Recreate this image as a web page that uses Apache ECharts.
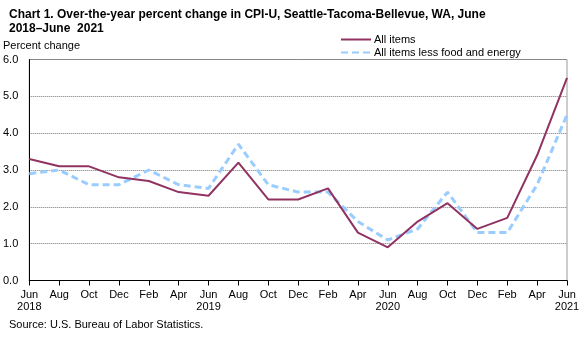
<!DOCTYPE html>
<html><head><meta charset="utf-8">
<script src="https://cdn.jsdelivr.net/npm/echarts@6/dist/echarts.min.js"></script>
<style>html,body{margin:0;padding:0;background:#fff}#c{width:588px;height:337px}</style>
</head><body><div id="c"></div>
<script>
var categories = ['Jun\n2018','Aug','Oct','Dec','Feb','Apr','Jun\n2019','Aug','Oct','Dec','Feb','Apr','Jun\n2020','Aug','Oct','Dec','Feb','Apr','Jun\n2021'];
var allItems = [3.3,3.1,3.1,2.8,2.7,2.4,2.3,3.2,2.2,2.2,2.5,1.3,0.9,1.6,2.1,1.4,1.7,3.4,5.5];
var coreItems = [2.9,3.0,2.6,2.6,3.0,2.6,2.5,3.7,2.6,2.4,2.4,1.6,1.1,1.4,2.4,1.3,1.3,2.6,4.5];
var yTicks = [0,1,2,3,4,5,6];

var chart = echarts.init(document.getElementById('c'), null, {renderer:'canvas'});
var font = 'Liberation Sans, Arial, sans-serif';
chart.setOption({
  animation:false,
  title:{
    text:'Chart 1. Over-the-year percent change in CPI-U, Seattle-Tacoma-Bellevue, WA, June\n2018\u2013June  2021',
    left:9, top:7, padding:0,
    textStyle:{fontFamily:font, fontSize:12, fontWeight:'bold', color:'#000', lineHeight:14.5}
  },
  legend:{
    orient:'vertical', left:340, top:34, padding:0, itemWidth:30, itemHeight:11, itemGap:2,
    itemStyle:{opacity:0},
    textStyle:{fontFamily:font, fontSize:11, color:'#000', padding:[0,0,0,-2]},
    data:['All items','All items less food and energy']
  },
  graphic:[
    {type:'text', left:3, top:40, style:{text:'Percent change', font:'11px '+font, fill:'#000'}},
    {type:'text', left:9, top:319, style:{text:'Source: U.S. Bureau of Labor Statistics.', font:'11px '+font, fill:'#000'}}
  ],
  grid:{left:27, right:21, top:59.5, bottom:56.5, show:true, borderColor:'#9a9a9a', borderWidth:1},
  xAxis:{
    type:'category', data:categories, boundaryGap:false,
    axisLine:{lineStyle:{color:'#000', width:1}},
    axisTick:{show:true, length:5, lineStyle:{color:'#000'}, alignWithLabel:true},
    axisLabel:{fontFamily:font, fontSize:11, color:'#000', interval:0, margin:8, lineHeight:12},
    splitLine:{show:false}
  },
  yAxis:{
    type:'value', min:0, max:6, interval:1,
    axisLine:{show:true, lineStyle:{color:'#000'}},
    axisTick:{show:false},
    axisLabel:{fontFamily:font, fontSize:11, color:'#000', margin:11, formatter:function(v){return v.toFixed(1);}},
    splitLine:{show:true, lineStyle:{color:'#777', type:[1,1], width:1}}
  },
  series:[
    {name:'All items', type:'line', data:allItems, symbol:'none', lineStyle:{color:'#913361', width:2}, itemStyle:{color:'#913361'}, z:3},
    {name:'All items less food and energy', type:'line', data:coreItems, symbol:'none', lineStyle:{color:'#99CCFF', width:3, type:[7,4]}, itemStyle:{color:'#99CCFF'}, z:2}
  ]
});
</script></body></html>
